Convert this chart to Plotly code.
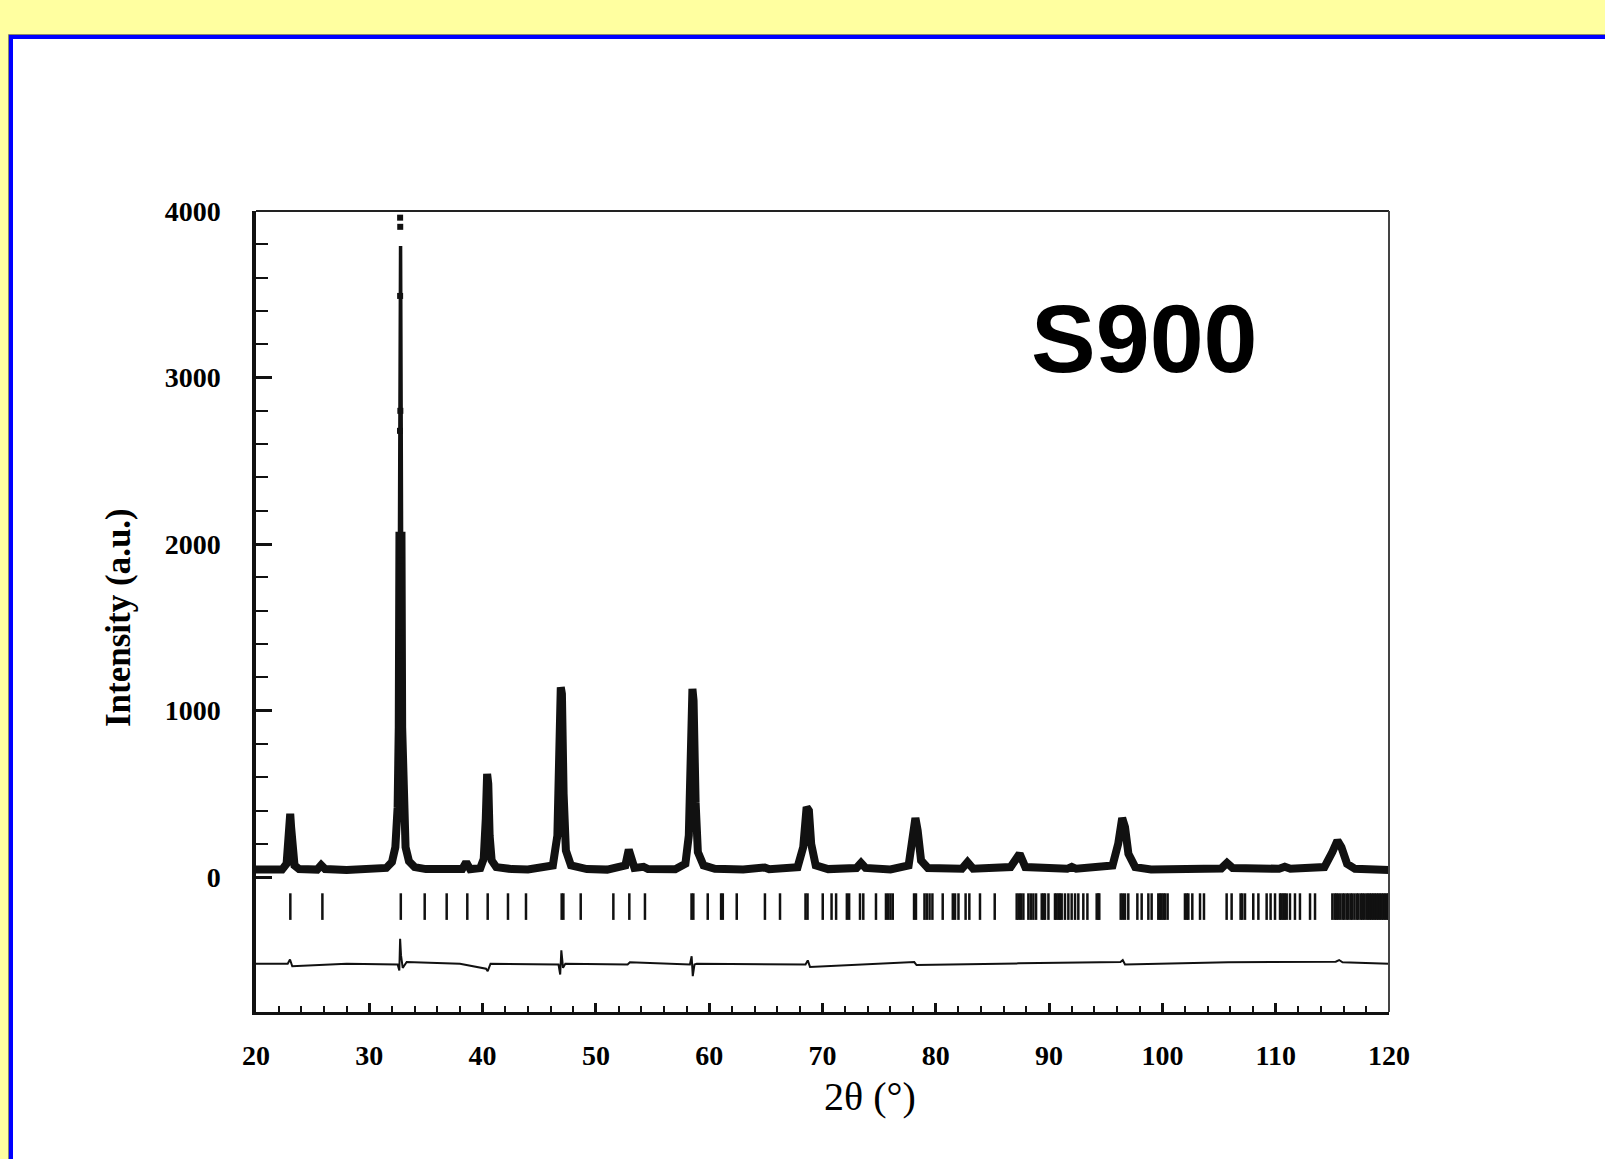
import plotly.graph_objects as go

# ---------------- data ----------------
# observed profile (key points, 2theta in deg, intensity a.u.)
obs_x = [20.0, 22.3, 22.7, 22.85, 22.95, 23.02, 23.1, 23.2, 23.4, 23.8, 25.4, 25.75, 26.1,
         28.0, 30.0, 31.5, 32.0, 32.3, 32.5, 32.6, 32.66, 32.84, 32.9, 33.0, 33.2, 33.5, 34.0,
         35.0, 37.0, 38.2, 38.55, 38.9, 39.8, 40.1, 40.28, 40.4, 40.5, 40.62, 40.8, 41.2,
         42.0, 42.3, 42.6, 44.0, 46.2, 46.6, 46.8, 46.9, 47.0, 47.15, 47.35, 47.8, 48.5, 49.2,
         51.0, 52.6, 52.9, 53.1, 53.4, 54.2, 54.6, 57.0, 57.9, 58.2, 58.4, 58.52, 58.62, 58.8,
         59.0, 59.5, 60.5, 63.0, 64.9, 65.3, 67.8, 68.3, 68.6, 68.8, 69.0, 69.4, 70.5, 73.0,
         73.4, 73.8, 76.0, 77.6, 78.0, 78.2, 78.4, 78.7, 79.3, 82.3, 82.8, 83.3, 86.6, 87.2,
         87.4, 87.9, 91.6, 92.0, 92.4, 95.6, 96.1, 96.45, 96.7, 97.0, 97.6, 99.0, 105.2, 105.7,
         106.2, 110.3, 110.8, 111.3, 114.3, 115.0, 115.45, 115.8, 116.3, 117.0, 120.0]
obs_y = [45, 45, 80, 180, 340, 380, 300, 150, 70, 48, 45, 72, 48,
         43, 44, 55, 90, 180, 420, 900, 2050, 2050, 900, 420, 180, 95, 60,
         48, 45, 48, 90, 48, 55, 110, 350, 620, 560, 250, 100, 60,
         50, 58, 48, 46, 70, 250, 700, 1140, 1100, 500, 160, 70, 62, 48,
         45, 70, 165, 120, 55, 62, 48, 47, 80, 250, 700, 1130, 1060, 450,
         150, 70, 50, 46, 58, 47, 60, 180, 420, 400, 200, 70, 48, 55,
         85, 55, 46, 70, 230, 355, 280, 100, 55, 50, 90, 50, 60, 135,
         140, 60, 50, 62, 50, 70, 200, 355, 300, 140, 60, 46, 52, 85,
         55, 50, 62, 50, 60, 150, 220, 180, 80, 50, 42]

# isolated observed points on the strongest reflection
obs_pk_x = [32.72, 32.73, 32.72, 32.74, 32.71, 32.77, 32.69, 32.78, 32.68]
obs_pk_y = [3960, 3905, 3490, 2800, 2680, 1900, 1730, 1470, 1330]

# calculated profile around the strongest reflection
calc_x = [31.5, 32.0, 32.3, 32.5, 32.6, 32.68, 32.72, 32.76, 32.84, 32.9, 33.0, 33.2, 33.5, 34.0]
calc_y = [55, 90, 180, 420, 900, 2200, 3790, 3790, 2200, 900, 420, 180, 95, 60]

# difference curve (obs - calc, offset)
diff_x = [20.0, 22.8, 23.0, 23.2, 28.0, 32.5, 32.65, 32.72, 32.8, 32.95, 33.3, 38.0, 40.3,
          40.45, 40.7, 46.7, 46.85, 46.95, 47.1, 47.3, 52.8, 53.0, 58.3, 58.45, 58.55, 58.7,
          58.9, 68.5, 68.7, 68.9, 78.1, 78.3, 87.3, 96.3, 96.5, 96.7, 105.8, 115.3, 115.6,
          115.9, 120.0]
diff_y = [-520, -520, -495, -535, -520, -525, -560, -370, -470, -545, -510, -520, -550,
          -565, -520, -525, -585, -440, -545, -520, -525, -512, -525, -475, -595, -525,
          -520, -525, -500, -540, -510, -528, -518, -510, -498, -525, -512, -508, -498,
          -512, -520]

# Bragg reflection positions
bragg_x = [23.03, 25.86, 32.78, 34.89, 36.83, 38.65, 40.45, 42.24, 43.83, 46.98, 47.13, 48.66,
           51.54, 52.95, 54.33, 58.44, 58.6, 59.87, 61.05, 61.2, 62.43, 64.92, 66.25, 68.5,
           68.68, 70.02, 70.8, 71.2, 72.15, 72.35, 73.31, 73.6, 74.72, 75.6, 75.8, 76.0, 76.2,
           78.08, 78.25, 79.0, 79.2, 79.45, 79.7, 80.61, 81.5, 81.7, 82.0, 82.63, 82.96, 83.9,
           85.2, 87.14, 87.35, 87.52, 87.73, 88.17, 88.38, 88.61, 88.85, 89.35, 89.5, 89.64,
           89.94, 90.52, 90.65, 90.82, 90.95, 91.11, 91.4, 91.7, 91.99, 92.29, 92.58, 93.02,
           93.38, 94.2, 94.35, 94.43, 96.32, 96.5, 96.7, 96.99, 97.79, 98.17, 98.76, 99.05,
           99.64, 99.8, 99.93, 100.1, 100.23, 100.46, 101.99, 102.15, 102.29, 102.64, 103.32,
           103.67, 105.67, 106.11, 106.9, 107.05, 107.29, 108.02, 108.47, 109.2, 109.55,
           109.94, 110.38, 110.5, 110.67, 110.8, 110.97, 111.26, 111.7, 112.14, 113.03, 113.47,
           115.0, 115.2, 115.35, 115.5, 115.7, 115.9, 116.05, 116.25, 116.4, 116.6, 116.75,
           116.95, 117.15, 117.3, 117.5, 117.65, 117.8, 118.0, 118.15, 118.3, 118.45, 118.6,
           118.75, 118.9, 119.05, 119.2, 119.35, 119.5, 119.65, 119.8, 119.95]
bragg_level = -177

x_ticks = [20, 30, 40, 50, 60, 70, 80, 90, 100, 110, 120]
y_ticks = [0, 1000, 2000, 3000, 4000]
y_minor = [200, 400, 600, 800, 1200, 1400, 1600, 1800, 2200, 2400, 2600, 2800,
           3200, 3400, 3600, 3800]

sample_label = "S900"
x_title = "2θ (°)"
y_title = "Intensity (a.u.)"

# ---------------- figure ----------------
W, H = 1605, 1159
L, R, T, B = 256, 1389, 211, 1012
PW, PH = R - L, B - T


def px(xp):
    return (xp - L) / PW


def py(yp):
    return (B - yp) / PH


serif = "Liberation Serif, Times New Roman, serif"

fig = go.Figure()

fig.add_trace(go.Scatter(x=obs_x, y=obs_y, mode="lines",
                         line=dict(color="#111111", width=8), hoverinfo="skip"))
fig.add_trace(go.Scatter(x=calc_x, y=calc_y, mode="lines",
                         line=dict(color="#111111", width=3.5), hoverinfo="skip"))
fig.add_trace(go.Scatter(x=obs_pk_x, y=obs_pk_y, mode="markers",
                         marker=dict(symbol="square", size=6, color="#111111"),
                         hoverinfo="skip"))
fig.add_trace(go.Scatter(x=diff_x, y=diff_y, mode="lines",
                         line=dict(color="#111111", width=2), hoverinfo="skip"))
fig.add_trace(go.Scatter(x=bragg_x, y=[bragg_level] * len(bragg_x), mode="markers",
                         marker=dict(symbol="line-ns", size=19,
                                     line=dict(color="#111111", width=2.5)),
                         hoverinfo="skip"))

# white panel with blue frame
fig.add_shape(type="rect", xref="paper", yref="paper",
              x0=px(11), x1=px(1720), y0=py(1320), y1=py(37),
              fillcolor="white", line=dict(color="#0000FF", width=4), layer="below")
fig.add_shape(type="rect", xref="paper", yref="paper",
              x0=px(8.5), x1=px(1725), y0=py(1325), y1=py(34.5),
              fillcolor="rgba(0,0,0,0)", line=dict(color="#8a8a6a", width=1), layer="below")
# top and right frame lines
fig.add_shape(type="line", xref="paper", yref="paper", x0=0, x1=1, y0=1, y1=1,
              line=dict(color="#222222", width=2))
fig.add_shape(type="line", xref="paper", yref="paper", x0=1, x1=1, y0=0, y1=1,
              line=dict(color="#444444", width=2))

fig.add_annotation(text=sample_label, xref="paper", yref="paper",
                   x=px(1144), y=py(339), xanchor="center", yanchor="middle",
                   showarrow=False,
                   font=dict(family="Liberation Sans, Arial, sans-serif", size=97,
                             color="black", weight="bold"))
fig.add_annotation(text=x_title, xref="paper", yref="paper",
                   x=px(870), y=py(1096), xanchor="center", yanchor="middle",
                   showarrow=False,
                   font=dict(family=serif, size=40, color="black"))
fig.add_annotation(text=y_title, xref="paper", yref="paper",
                   x=px(118), y=py(618), xanchor="center", yanchor="middle",
                   showarrow=False, textangle=-90,
                   font=dict(family=serif, size=35, color="black", weight="bold"))

fig.update_layout(
    width=W, height=H,
    margin=dict(l=L, r=W - R, t=T, b=H - B, pad=0),
    paper_bgcolor="#FFFFA0",
    plot_bgcolor="rgba(0,0,0,0)",
    showlegend=False,
    font=dict(family=serif, color="black"),
)
fig.update_xaxes(range=[20, 120], tickmode="array", tickvals=x_ticks,
                 ticktext=[str(v) for v in x_ticks],
                 ticks="inside", ticklen=9, tickwidth=2.5, tickcolor="#111111",
                 minor=dict(dtick=2, tick0=20, ticks="inside", ticklen=6, tickwidth=1.5,
                            tickcolor="#111111", showgrid=False),
                 showline=True, linecolor="#111111", linewidth=3, mirror=False,
                 showgrid=False, zeroline=False, ticklabelstandoff=16,
                 tickfont=dict(family=serif, size=28, color="black", weight="bold"))
fig.update_yaxes(range=[-810, 4000], tickmode="array", tickvals=y_ticks,
                 ticktext=[str(v) for v in y_ticks],
                 ticks="inside", ticklen=16, tickwidth=2.5, tickcolor="#111111",
                 minor=dict(tickmode="array", tickvals=y_minor, ticks="inside", ticklen=12,
                            tickwidth=1.5, tickcolor="#111111", showgrid=False),
                 showline=True, linecolor="#111111", linewidth=3.5, mirror=False,
                 showgrid=False, zeroline=False, ticklabelstandoff=26,
                 tickfont=dict(family=serif, size=28, color="black", weight="bold"))

fig.write_html("out.html",
               config={"displayModeBar": False},
               post_script="document.body.style.margin='0';"
                           "document.body.style.overflow='hidden';")
